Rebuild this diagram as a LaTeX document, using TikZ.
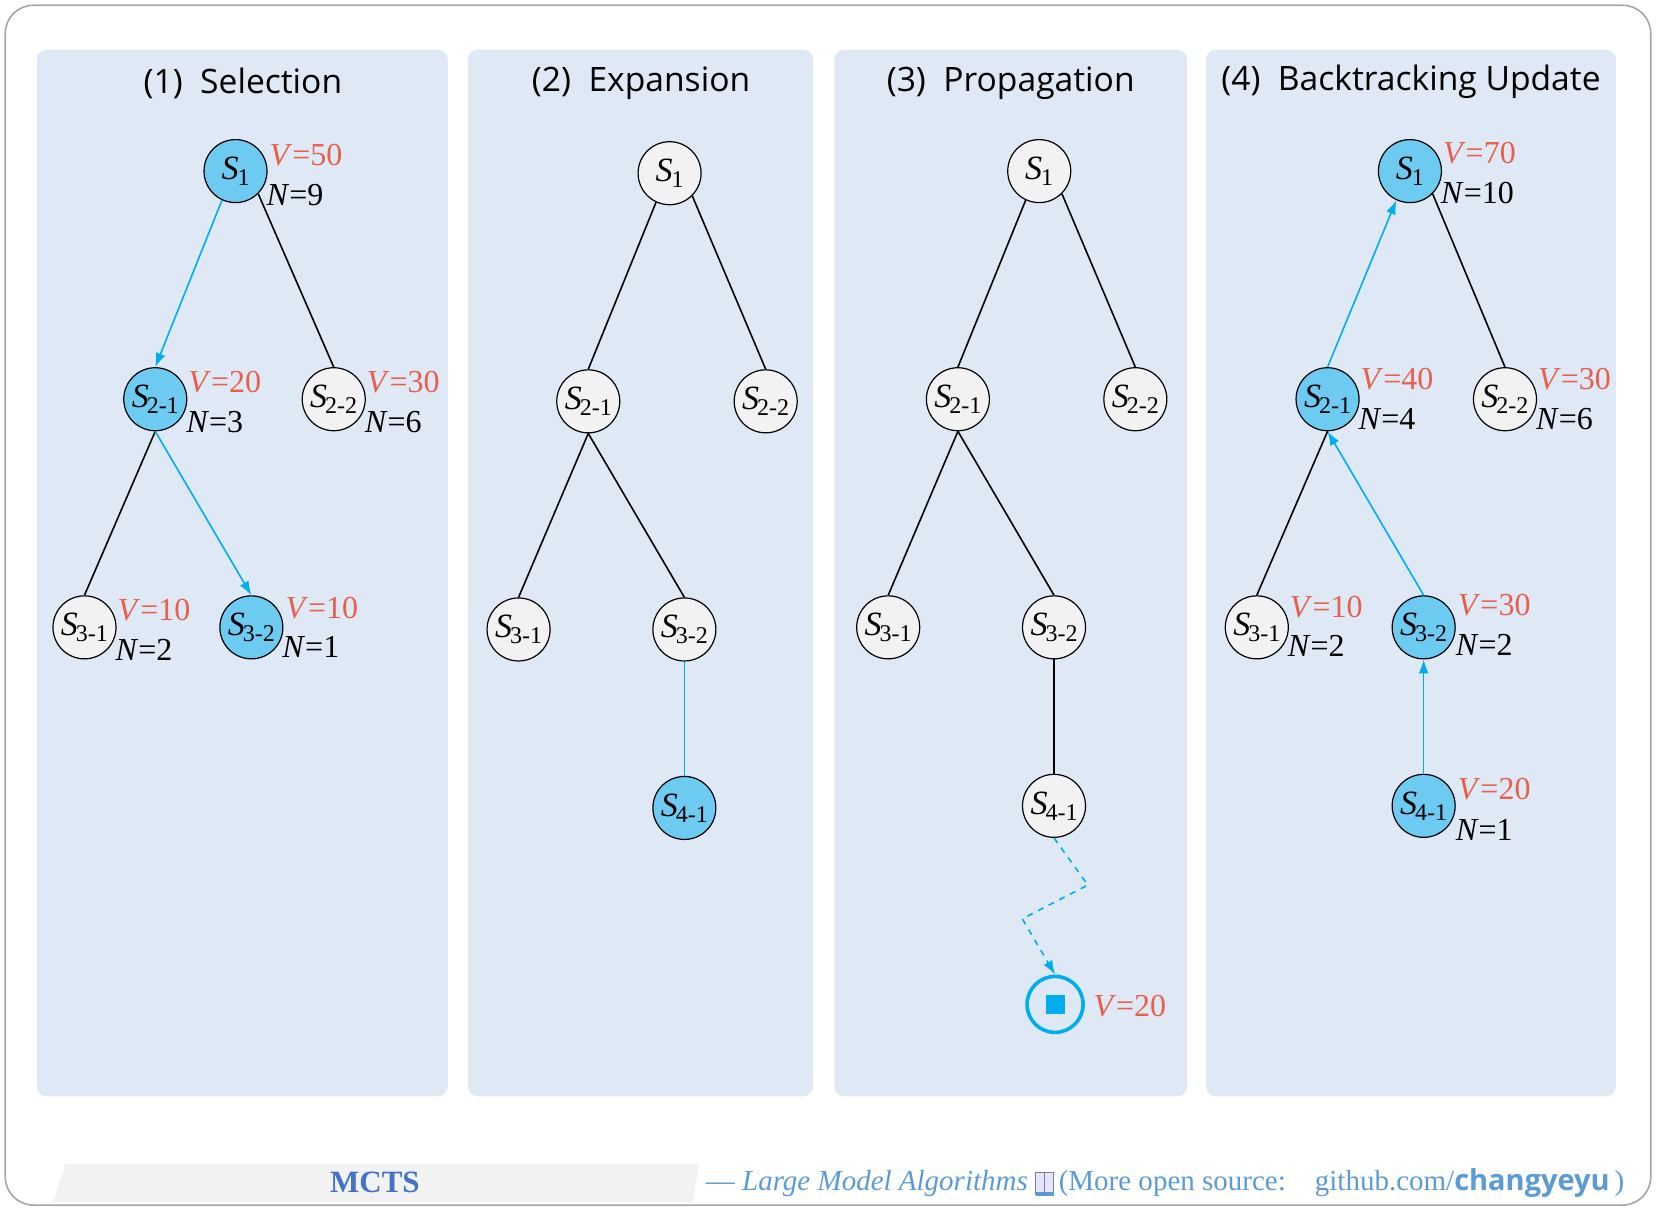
\documentclass[tikz,border=0pt]{standalone}
\usepackage{fontspec}
\setmainfont{Liberation Serif}
\newfontfamily\ttl{Open Sans}
\usetikzlibrary{arrows.meta}
\definecolor{panel}{HTML}{DEE9F5}
\definecolor{nb}{HTML}{6DCBF2}
\definecolor{ng}{HTML}{F2F2F2}
\definecolor{ab}{HTML}{00AEEF}
\definecolor{vr}{HTML}{E8604C}
\definecolor{ft}{HTML}{5B9BD5}
\definecolor{mc}{HTML}{4472C4}
\newcommand{\Sx}[2]{\textit{S}\kern-1pt\raisebox{-3pt}{\fontsize{12}{12}\selectfont#1\mbox{-}#2}}
\newcommand{\Sone}{\textit{S}\kern-0.5pt\raisebox{-3pt}{\fontsize{12}{12}\selectfont 1}}
\begin{document}
\begin{tikzpicture}[x=0.528pt,y=-0.528pt,
  st/.style={circle,draw=black,line width=0.6pt,minimum size=31.5pt,inner sep=0pt,font=\fontsize{17}{17}\selectfont},
  g/.style={st,fill=ng}, b/.style={st,fill=nb},
  vl/.style={anchor=west,text=vr,font=\fontsize{16}{15}\selectfont,inner sep=0pt},
  nl/.style={anchor=west,font=\fontsize{16}{15}\selectfont,inner sep=0pt},
  ed/.style={line width=0.8pt},
  ar/.style={ab,line width=0.8pt,-{Latex[length=7pt,width=5pt]}},
  pn/.style={fill=panel,rounded corners=5pt},
  tt/.style={font=\ttl\fontsize{16.8}{17}\selectfont}]
\useasboundingbox (0,0) rectangle (1568,1146);
\draw[gray!70,line width=0.8pt,rounded corners=14pt] (5,5) rectangle (1563,1141);
\fill[pn] (35,47) rectangle (424,1038);
\fill[pn] (443,47) rectangle (770,1038);
\fill[pn] (790,47) rectangle (1124,1038);
\fill[pn] (1142,47) rectangle (1530,1038);
\node[tt] (t1) at (230,79) {(1)\ \ Selection};
\node[tt] (t2) at (607,79) {(2)\ \ Expansion};
\node[tt] (t3) at (957,79) {(3)\ \ Propagation};
\node[tt] (t4) at (1336,77) {(4)\ \ Backtracking Update};
% panel 1
\node[b] (a1) at (223,162) {\Sone};
\node[b] (a21) at (147,378) {\Sx21};
\node[g] (a22) at (316,378) {\Sx22};
\node[g] (a31) at (80,594) {\Sx31};
\node[b] (a32) at (238,594) {\Sx32};
\draw[ar] (a1.-115) -- (a21.north);
\draw[ed] (a1.-45) -- (a22.north);
\draw[ed] (a21.south) -- (a31.north);
\draw[ar] (a21.south) -- (a32.north);
\node[vl] (av1) at (255,147) {\textit{V}=50}; \node[nl] (an1) at (252,185) {\textit{N}=9};
\node[vl] (av21) at (178,362) {\textit{V}=20}; \node[nl] (an21) at (176,400) {\textit{N}=3};
\node[vl] (av22) at (347,362) {\textit{V}=30}; \node[nl] (an22) at (345,400) {\textit{N}=6};
\node[vl] (av31) at (111,578) {\textit{V}=10}; \node[nl] (an31) at (109,615) {\textit{N}=2};
\node[vl] (av32) at (270,576) {\textit{V}=10}; \node[nl] (an32) at (267,613) {\textit{N}=1};
% panel 2
\node[g] (b1) at (634,164) {\Sone};
\node[g] (b21) at (557,380) {\Sx21};
\node[g] (b22) at (725,380) {\Sx22};
\node[g] (b31) at (491,596) {\Sx31};
\node[g] (b32) at (648,596) {\Sx32};
\node[b] (b41) at (648,765) {\Sx41};
\draw[ed] (b1.-115) -- (b21.north); \draw[ed] (b1.-45) -- (b22.north);
\draw[ed] (b21.south) -- (b31.north); \draw[ed] (b21.south) -- (b32.north);
\draw[ab,line width=0.8pt] (b32) -- (b41);
% panel 3
\node[g] (c1) at (984,162) {\Sone};
\node[g] (c21) at (907,378) {\Sx21};
\node[g] (c22) at (1075,378) {\Sx22};
\node[g] (c31) at (841,594) {\Sx31};
\node[g] (c32) at (998,594) {\Sx32};
\node[g] (c41) at (998,763) {\Sx41};
\draw[ed] (c1.-115) -- (c21.north); \draw[ed] (c1.-45) -- (c22.north);
\draw[ed] (c21.south) -- (c31.north); \draw[ed] (c21.south) -- (c32.north);
\draw[ed] (c32) -- (c41);
\node[circle,draw=ab,line width=1.8pt,minimum size=28pt,inner sep=0pt] (ce) at (999,951) {};
\fill[ab] (990,942) rectangle (1008,960);
\coordinate (p1) at (1030,838);
\coordinate (p2) at (968,870);
\draw[ab,line width=0.8pt,dashed,-{Latex[length=7pt,width=5pt]}] (c41.south) -- (p1) -- (p2) -- (ce.north);
\node[vl] (cv) at (1035,953) {\textit{V}=20};
% panel 4
\node[b] (d1) at (1335,162) {\Sone};
\node[b] (d21) at (1257,378) {\Sx21};
\node[g] (d22) at (1425,378) {\Sx22};
\node[g] (d31) at (1190,594) {\Sx31};
\node[b] (d32) at (1348,594) {\Sx32};
\node[b] (d41) at (1348,763) {\Sx41};
\draw[ar] (d21.north) -- (d1.-115); \draw[ed] (d1.-45) -- (d22.north);
\draw[ed] (d21.south) -- (d31.north); \draw[ar] (d32.north) -- (d21.south);
\draw[ar] (d41) -- (d32);
\node[vl] (dv1) at (1366,145) {\textit{V}=70}; \node[nl] (dn1) at (1364,183) {\textit{N}=10};
\node[vl] (dv21) at (1288,359) {\textit{V}=40}; \node[nl] (dn21) at (1286,397) {\textit{N}=4};
\node[vl] (dv22) at (1456,359) {\textit{V}=30}; \node[nl] (dn22) at (1454,397) {\textit{N}=6};
\node[vl] (dv31) at (1221,575) {\textit{V}=10}; \node[nl] (dn31) at (1219,612) {\textit{N}=2};
\node[vl] (dv32) at (1380,573) {\textit{V}=30}; \node[nl] (dn32) at (1378,611) {\textit{N}=2};
\node[vl] (dv41) at (1380,747) {\textit{V}=20}; \node[nl] (dn41) at (1378,786) {\textit{N}=1};
% footer
\fill[ng] (62,1102) -- (662,1102) -- (656,1138) -- (50,1138) -- cycle;
\node[font=\fontsize{15.5}{15}\selectfont\bfseries,text=mc] (mc) at (355,1120) {MCTS};
\node[anchor=west,text=ft,font=\fontsize{14.5}{14}\selectfont,inner sep=0pt] (fo) at (668,1120) {— \textit{Large Model Algorithms} \tikz[baseline=-1pt,x=1pt,y=1pt]{\fill[blue!10,draw=gray] (0,-3) rectangle (9,8);\fill[ft] (0,-4) rectangle (9,-2);\draw[gray] (4.5,-3)--(4.5,8);}\,(More open source:\quad github.com/\textbf{\ttl changyeyu}\,)};
\end{tikzpicture}
\end{document}
